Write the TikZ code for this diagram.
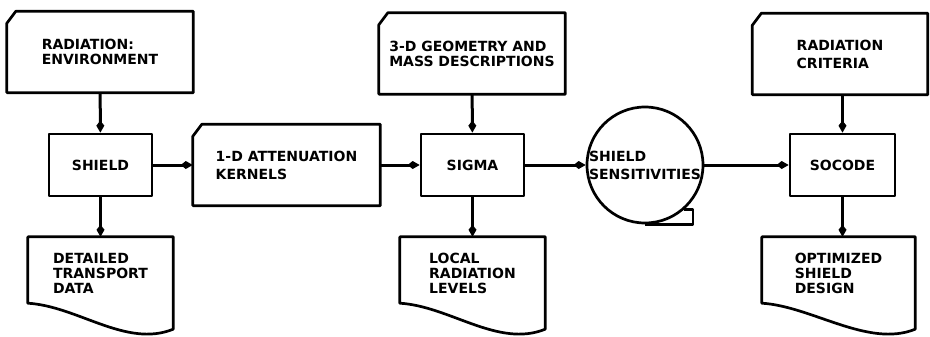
\documentclass[tikz,border=0pt]{standalone}
\usepackage{fontspec}
\setmainfont{DejaVu Sans}
\usetikzlibrary{arrows.meta}
\newcommand{\cardpath}[1]% node name
{(#1.south west) -- ([yshift=-12pt]#1.north west) -- ([xshift=9pt]#1.north west) -- (#1.north east) -- (#1.south east) -- cycle
}
\newcommand{\docpath}[1]% node name
{([yshift=6pt]#1.south west) -- (#1.north west) -- (#1.north east) -- ([yshift=-20pt]#1.south east) .. controls +(-47,19) and +(50,3) .. ([yshift=6pt]#1.south west) -- cycle
}
\newcommand{\tapepath}[1]% node name
{(#1.-49) -- ++(9,0) |- (#1.south)
}
\tikzset{
  outline/.style = {line width=2.7pt, line join=round},
  flow/.style = {line width=3pt, -{Kite[length=12pt,width=8pt,inset=5pt]}},
  card/.style = {inner sep=0pt, align=left, minimum height=81pt},
  proc/.style = {draw, outline, inner sep=0pt, minimum width=103pt, minimum height=62pt},
  doc/.style = {inner sep=0pt, align=left, minimum height=72pt},
  store/.style = {circle, draw, outline, inner sep=0pt, minimum size=116pt, align=left, font=\bfseries\fontsize{14}{18}\selectfont}
}

\begin{document}
\begin{tikzpicture}[x=1pt, y=-1pt, font=\bfseries\fontsize{14}{15}\selectfont]
\useasboundingbox (0,0) rectangle (930,337);

% -- input cards
\node[card, minimum width=186pt] (radenv) at (100,52) {RADIATION:\\ENVIRONMENT};
\draw[outline] \cardpath{radenv};

\node[card, minimum width=187pt, font=\bfseries\fontsize{14}{18}\selectfont] (kernels) at (286.5,165) {1-D ATTENUATION\\KERNELS};
\draw[outline] \cardpath{kernels};

\node[card, minimum width=186pt] (geom) at (472,53.5) {3-D GEOMETRY AND\\MASS DESCRIPTIONS};
\draw[outline] \cardpath{geom};

\node[card, minimum width=175pt, font=\bfseries\fontsize{14}{18}\selectfont] (radcrit) at (840,54) {RADIATION\\CRITERIA};
\draw[outline] \cardpath{radcrit};

% -- programs
\node[proc] (shield) at (100.5,165) {SHIELD};
\node[proc] (sigma) at (472.5,165) {SIGMA};
\node[proc, minimum width=105pt] (socode) at (842.5,165) {SOCODE};

% -- tape
\node[store] (sens) at (645,165) {SHIELD\\SENSITIVITIES};
\draw[outline] \tapepath{sens};

% -- output documents
\node[doc, minimum width=145pt] (detail) at (100.5,273) {DETAILED\\TRANSPORT\\DATA};
\draw[outline] \docpath{detail};

\node[doc, minimum width=145pt] (local) at (472.5,273) {LOCAL\\RADIATION\\LEVELS};
\draw[outline] \docpath{local};

\node[doc, minimum width=153pt] (optim) at (838.5,273) {OPTIMIZED\\SHIELD\\DESIGN};
\draw[outline] \docpath{optim};

% -- flow
\draw[flow] (radenv) -- (shield);
\draw[flow] (shield) -- (detail);
\draw[flow] (shield) -- (kernels);
\draw[flow] (kernels) -- (sigma);
\draw[flow] (geom) -- (sigma);
\draw[flow] (sigma) -- (local);
\draw[flow] (sigma) -- (sens);
\draw[flow] (sens) -- (socode);
\draw[flow] (radcrit.south -| socode.north) -- (socode);
\draw[flow] (socode) -- (socode.south |- optim.north);

\end{tikzpicture}
\end{document}
